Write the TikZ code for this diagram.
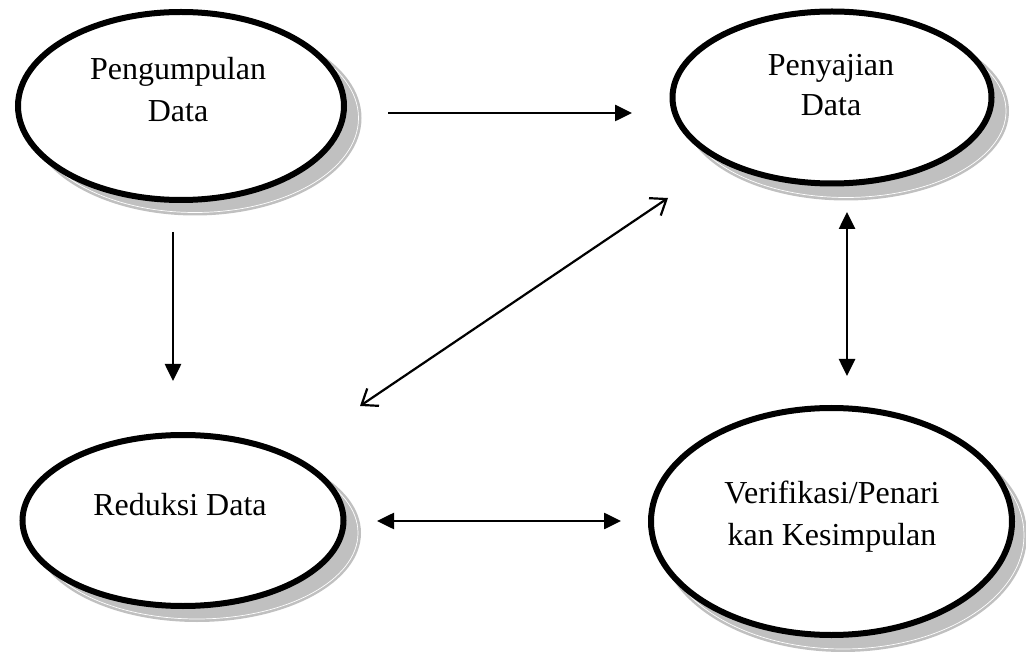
\documentclass[tikz,border=0pt]{standalone}
\usepackage{fontspec}
\setmainfont{Liberation Serif}
\usetikzlibrary{arrows.meta,shapes.geometric}
\definecolor{shadowgray}{RGB}{192,192,192}
\begin{document}
\begin{tikzpicture}[x=1pt,y=-1pt,
  bubble/.style={ellipse, draw=black, line width=6pt, fill=white, inner sep=0pt},
  shadefill/.style={fill=shadowgray},
  shadeline/.style={draw=white, line width=0.7pt},
  lbl/.style={font=\fontsize{32}{40}\selectfont, anchor=base, inner sep=0pt},
  solidarrow/.style={line width=2.6pt, -{Triangle[length=17pt,width=16pt]}},
  soliddouble/.style={line width=2.6pt, {Triangle[length=17pt,width=16pt]}-{Triangle[length=17pt,width=16pt]}},
  opendouble/.style={line width=2.2pt, {Straight Barb[length=14pt,width=21pt]}-{Straight Barb[length=14pt,width=21pt]}}
]
\useasboundingbox (0,0) rectangle (1026,652);

% shadows
\fill[shadefill] (195,118) ellipse [x radius=166.5pt, y radius=97.5pt];
\draw[shadeline] (195,118) ellipse [x radius=163.5pt, y radius=94.5pt];
\fill[shadefill] (846,111) ellipse [x radius=163pt, y radius=89.5pt];
\draw[shadeline] (846,111) ellipse [x radius=160pt, y radius=86.5pt];
\fill[shadefill] (197,533) ellipse [x radius=164pt, y radius=89pt];
\draw[shadeline] (197,533) ellipse [x radius=161pt, y radius=86pt];
\fill[shadefill] (843,535) ellipse [x radius=184pt, y radius=117pt];
\draw[shadeline] (843,535) ellipse [x radius=181pt, y radius=114pt];

% ellipses
\node[bubble, minimum width=326pt, minimum height=188pt] (pengumpulan) at (181,106) {};
\node[bubble, minimum width=319pt, minimum height=172pt] (penyajian) at (832,97.5) {};
\node[bubble, minimum width=321pt, minimum height=171pt] (reduksi) at (183,520.5) {};
\node[bubble, minimum width=361pt, minimum height=227pt] (verifikasi) at (831.5,521.5) {};

% texts
\node[lbl] (t1a) at (178,80) {Pengumpulan};
\node[lbl] (t1b) at (178,122) {Data};
\node[lbl] (t2a) at (831,76) {Penyajian};
\node[lbl] (t2b) at (831,116) {Data};
\node[lbl] (t3a) at (180,515) {Reduksi Data};
\node[lbl] (t4a) at (832,503) {Verifikasi/Penari};
\node[lbl] (t4b) at (832,545) {kan Kesimpulan};

% connector end points
\coordinate (a1s) at (388,113);
\coordinate (a1e) at (632,113);
\coordinate (a2s) at (173,232);
\coordinate (a2e) at (173,381);
\coordinate (a3s) at (360,406);
\coordinate (a3e) at (668,198);
\coordinate (a4s) at (847,212);
\coordinate (a4e) at (847,376);
\coordinate (a5s) at (377,521);
\coordinate (a5e) at (621,521);

\draw[solidarrow] (a1s) -- (a1e);
\draw[solidarrow] (a2s) -- (a2e);
\draw[opendouble] (a3s) -- (a3e);
\draw[soliddouble] (a4s) -- (a4e);
\draw[soliddouble] (a5s) -- (a5e);
\end{tikzpicture}
\end{document}
